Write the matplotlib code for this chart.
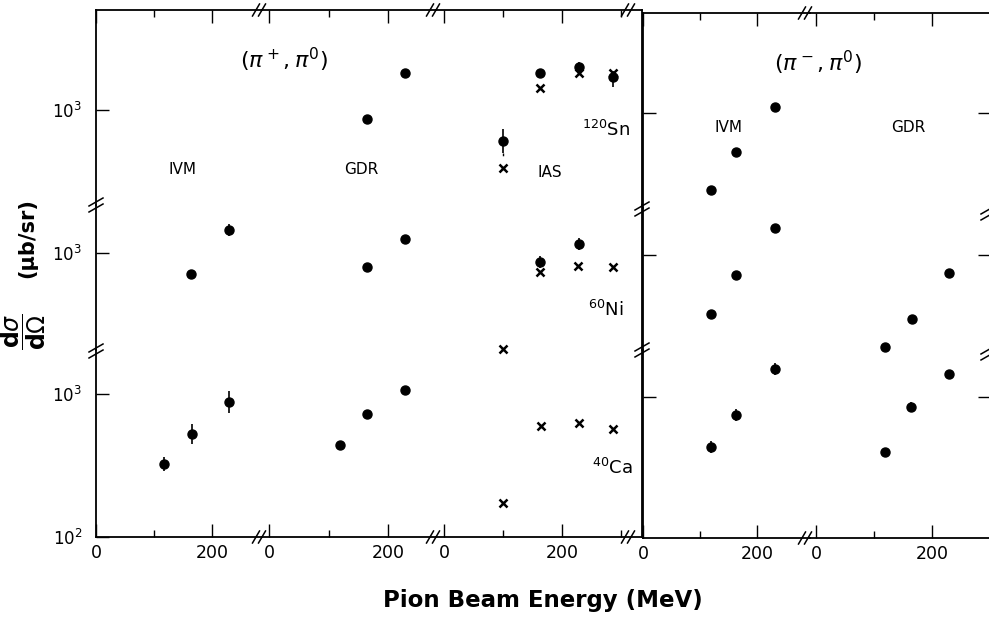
import matplotlib
matplotlib.use('Agg')
import matplotlib.pyplot as plt
from matplotlib.lines import Line2D
from matplotlib.ticker import FixedLocator, FixedFormatter, NullLocator

# ------------------------------------------------------------------ data
# (pi+, pi0)  -- IVM section
pp_ivm_ni_E = [163, 230]
pp_ivm_ni = [710, 1450]
pp_ivm_ni_elo = [44, 133]
pp_ivm_ni_ehi = [47, 147]
pp_ivm_ca_E = [118, 165, 230]
pp_ivm_ca = [324, 522, 884]
pp_ivm_ca_elo = [35, 78, 144]
pp_ivm_ca_ehi = [39, 91, 171]
# (pi+, pi0)  -- GDR section
pp_gdr_sn_E = [164, 228]
pp_gdr_sn = [861, 1815]
pp_gdr_ni_E = [164, 228]
pp_gdr_ni = [802, 1253]
pp_gdr_ca_E = [120, 164, 228]
pp_gdr_ca = [442, 722, 1066]
# (pi+, pi0)  -- IAS section (dots = data, x = second set)
pp_ias_sn_E = [100, 163, 228, 287]
pp_ias_sn = [610, 1806, 2010, 1693]
pp_ias_sn_elo = [107, 112, 156, 252]
pp_ias_sn_ehi = [130, 119, 169, 190]
pp_ias_sn_dash = [503, 469]          # dashed lower extension at 100 MeV
pp_ias_sn_x = [395, 1418, 1806, 1824]
pp_ias_ni_E = [163, 228]
pp_ias_ni = [869, 1156]
pp_ias_ni_elo = [80, 106]
pp_ias_ni_ehi = [88, 117]
pp_ias_ni_xE = [100, 163, 227, 287]
pp_ias_ni_x = [213, 740, 815, 802]
pp_ias_ca_xE = [100, 164, 228, 286]
pp_ias_ca_x = [172, 600, 624, 566]
# (pi-, pi0)  -- IVM section
pm_ivm_E = [119, 164, 232]
pm_ivm_sn = [290, 531, 1107]
pm_ivm_sn_elo = [18, 0, 0]
pm_ivm_sn_ehi = [19, 0, 0]
pm_ivm_ni = [386, 725, 1537]
pm_ivm_ca = [449, 748, 1563]
pm_ivm_ca_elo = [41, 69, 143]
pm_ivm_ca_ehi = [45, 76, 158]
# (pi-, pi0)  -- GDR section
pm_gdr_ni_E = [119, 165, 230]
pm_gdr_ni = [229, 357, 752]
pm_gdr_ca_E = [119, 163, 229]
pm_gdr_ca = [414, 856, 1442]
pm_gdr_ca_elo = [0, 66, 0]
pm_gdr_ca_ehi = [0, 72, 0]

x_tick_vals = [0, 200]
x_tick_labels = ['0', '200']
x_minor_vals = [100, 300]

# ------------------------------------------------------------------ layout
W, H = 989, 617
fig = plt.figure(figsize=(W / 100, H / 100), dpi=100)
plt.rcParams['font.family'] = ['DejaVu Sans']
DEC = 143.0  # pixels per decade

# (left px, right px, px of E=0, px per MeV)
left_cols = [(96, 262, 96, 0.58), (262, 436, 269, 0.595), (436, 642, 444, 0.59)]
right_cols = [(643, 810, 643, 0.57), (810, 991, 816, 0.58)]
# (top px, bottom px, px of 10^3)
left_rows = [(10, 205, 110), (205, 350, 253), (350, 537, 394)]
right_rows = [(13, 208, 113), (208, 350, 255), (350, 538, 397)]


def make_grid(cols, rows, side):
    grid = []
    nr, nc = len(rows), len(cols)
    for i, (t, b, ref) in enumerate(rows):
        line = []
        for j, (x0, x1, z, s) in enumerate(cols):
            ax = fig.add_axes([x0 / W, 1 - b / H, (x1 - x0) / W, (b - t) / H])
            ax.patch.set_visible(False)
            ax.set_yscale('log')
            ax.set_xlim((x0 - z) / s, (x1 - z) / s)
            ax.set_ylim(10 ** (3 - (b - ref) / DEC), 10 ** (3 + (ref - t) / DEC))
            for sp in ax.spines.values():
                sp.set_linewidth(1.3)
            ax.spines['top'].set_visible(i == 0)
            ax.spines['bottom'].set_visible(i == nr - 1)
            ax.spines['left'].set_visible(j == 0)
            ax.spines['right'].set_visible(j == nc - 1)
            ax.xaxis.set_major_locator(FixedLocator(x_tick_vals))
            ax.xaxis.set_major_formatter(FixedFormatter(x_tick_labels))
            ax.xaxis.set_minor_locator(FixedLocator(x_minor_vals))
            if i == nr - 1:
                yt = [100, 1000]
                yl = [r'$10^2$', r'$10^3$']
            else:
                yt = [1000]
                yl = [r'$10^3$']
            ax.yaxis.set_major_locator(FixedLocator(yt))
            ax.yaxis.set_major_formatter(FixedFormatter(yl))
            ax.yaxis.set_minor_locator(NullLocator())
            ax.tick_params(which='both', direction='in', width=1.0,
                           top=(i == 0), bottom=(i == nr - 1),
                           left=(j == 0), right=(side == 'right' and j == nc - 1),
                           labeltop=False, labelright=False,
                           labelbottom=(i == nr - 1),
                           labelleft=(side == 'left' and j == 0))
            ax.tick_params(which='major', length=9.5)
            ax.tick_params(which='minor', length=5)
            ax.tick_params(axis='x', labelsize=12.5, pad=5)
            ax.tick_params(axis='y', labelsize=12, pad=10)
            line.append(ax)
        grid.append(line)
    return grid


L = make_grid(left_cols, left_rows, 'left')
R = make_grid(right_cols, right_rows, 'right')


def dots(ax, E, v, elo=None, ehi=None):
    if elo is None:
        ax.plot(E, v, 'o', color='k', ms=6.5, clip_on=False)
    else:
        ax.errorbar(E, v, yerr=[elo, ehi], fmt='o', color='k', ms=6.5,
                    elinewidth=1.2, capsize=0, clip_on=False)


def crosses(ax, E, v):
    ax.plot(E, v, 'x', color='k', ms=6, mew=1.8, clip_on=False)


# (pi+, pi0)
dots(L[1][0], pp_ivm_ni_E, pp_ivm_ni, pp_ivm_ni_elo, pp_ivm_ni_ehi)
dots(L[2][0], pp_ivm_ca_E, pp_ivm_ca, pp_ivm_ca_elo, pp_ivm_ca_ehi)
dots(L[0][1], pp_gdr_sn_E, pp_gdr_sn)
dots(L[1][1], pp_gdr_ni_E, pp_gdr_ni)
dots(L[2][1], pp_gdr_ca_E, pp_gdr_ca)
dots(L[0][2], pp_ias_sn_E, pp_ias_sn, pp_ias_sn_elo, pp_ias_sn_ehi)
L[0][2].plot([pp_ias_sn_E[0]] * 2, pp_ias_sn_dash, color='k', lw=1.0, ls=(0, (2, 2)))
crosses(L[0][2], pp_ias_sn_E, pp_ias_sn_x)
dots(L[1][2], pp_ias_ni_E, pp_ias_ni, pp_ias_ni_elo, pp_ias_ni_ehi)
crosses(L[1][2], pp_ias_ni_xE, pp_ias_ni_x)
crosses(L[2][2], pp_ias_ca_xE, pp_ias_ca_x)
# (pi-, pi0)
dots(R[0][0], pm_ivm_E, pm_ivm_sn, pm_ivm_sn_elo, pm_ivm_sn_ehi)
dots(R[1][0], pm_ivm_E, pm_ivm_ni)
dots(R[2][0], pm_ivm_E, pm_ivm_ca, pm_ivm_ca_elo, pm_ivm_ca_ehi)
dots(R[1][1], pm_gdr_ni_E, pm_gdr_ni)
dots(R[2][1], pm_gdr_ca_E, pm_gdr_ca, pm_gdr_ca_elo, pm_gdr_ca_ehi)


# ------------------------------------------------------------------ break marks
def brk(xc, yc, on_vertical=False):
    for off in (-3, 3):
        if not on_vertical:
            xs = [xc + off - 3.5, xc + off + 3.5]
            ys = [yc + 6, yc - 6]
        else:
            xs = [xc - 7, xc + 7]
            ys = [yc + off + 4, yc + off - 4]
        fig.add_artist(Line2D([x / W for x in xs], [1 - y / H for y in ys],
                              transform=fig.transFigure, color='k', lw=1.1))


for xb in (259, 433, 628):
    brk(xb, 10)
    brk(xb, 537)
for xb in (805,):
    brk(xb, 13)
    brk(xb, 538)
for yb in (205, 351):
    brk(96, yb, True)
for yb in (209, 350):
    brk(642, yb, True)
for yb in (213, 353):
    brk(988, yb, True)


# ------------------------------------------------------------------ texts
def ftext(x, y, s, **kw):
    fig.text(x / W, 1 - y / H, s, ha='center', va='center', **kw)


ftext(284, 60, r'$(\pi^+,\pi^0)$', fontsize=16)
ftext(818, 63, r'$(\pi^-,\pi^0)$', fontsize=16)
ftext(183, 170, 'IVM', fontsize=11)
ftext(361, 170, 'GDR', fontsize=11)
ftext(550, 172, 'IAS', fontsize=11)
ftext(728, 127, 'IVM', fontsize=11)
ftext(908, 128, 'GDR', fontsize=11)
ftext(606, 130, r'$^{120}$Sn', fontsize=13)
ftext(606, 310, r'$^{60}$Ni', fontsize=13)
ftext(612, 468, r'$^{40}$Ca', fontsize=13)
ftext(543, 601, 'Pion Beam Energy (MeV)', fontsize=16.5, fontweight='bold')
ftext(23, 332, r'$\dfrac{\mathbf{d}\sigma}{\mathbf{d}\Omega}$', fontsize=17, rotation=90)
ftext(27, 238, '(μb/sr)', fontsize=15, fontweight='bold', rotation=90)

fig.savefig('out.png', dpi=100)
